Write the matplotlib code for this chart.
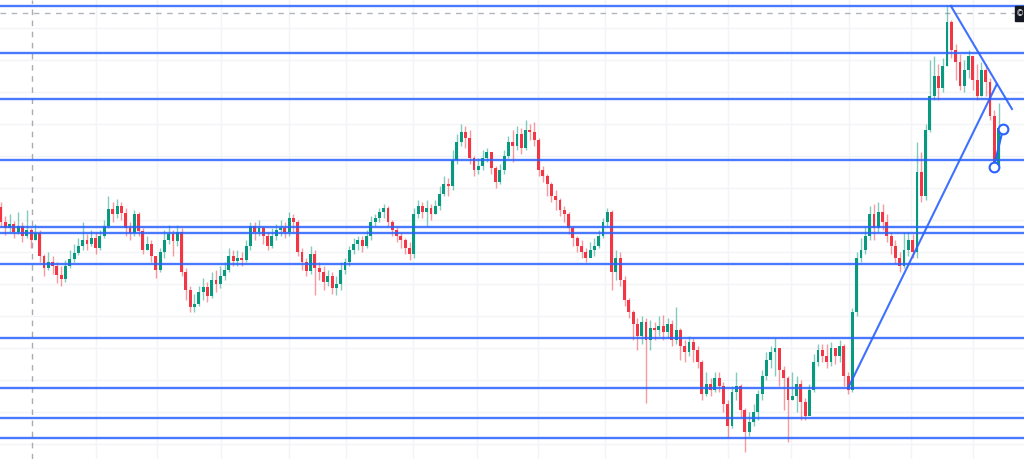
import numpy as np
import matplotlib.pyplot as plt
from matplotlib.patches import Rectangle

# candle data (close / high / low), price units, one entry per bar
close = [238, 232, 236, 228, 234, 224, 230, 220, 227, 204, 192, 198, 194, 185, 181, 194, 201, 207, 214, 220,
         216, 222, 212, 224, 234, 251, 246, 254, 247, 232, 227, 246, 229, 210, 216, 204, 190, 208, 220, 226,
         219, 228, 188, 170, 153, 156, 168, 173, 164, 180, 176, 184, 190, 204, 199, 202, 200, 214, 234, 228,
         232, 224, 214, 224, 230, 232, 228, 242, 238, 208, 198, 189, 206, 192, 188, 178, 184, 172, 176, 190,
         198, 210, 216, 220, 214, 224, 238, 242, 248, 252, 238, 230, 224, 220, 212, 206, 246, 254, 248, 252,
         246, 254, 266, 276, 274, 300, 318, 328, 322, 302, 290, 294, 302, 308, 292, 278, 290, 304, 318, 314,
         326, 312, 330, 328, 320, 290, 284, 276, 264, 260, 250, 246, 232, 222, 214, 208, 202, 210, 214, 224,
         238, 248, 188, 202, 180, 160, 148, 136, 124, 138, 120, 132, 130, 134, 128, 136, 120, 130, 114, 108,
         118, 110, 98, 66, 76, 70, 82, 74, 56, 34, 68, 74, 50, 28, 38, 48, 66, 84, 100, 108,
         112, 90, 82, 60, 64, 76, 58, 44, 70, 98, 110, 104, 98, 112, 104, 114, 84, 70, 148, 202,
         210, 224, 246, 232, 248, 238, 224, 214, 202, 194, 210, 220, 208, 288, 264, 330, 364, 384, 372, 394,
         438, 410, 398, 374, 390, 404, 380, 364, 390, 378, 344, 295, 332]
high = [258, 244, 246, 239, 248, 238, 250, 232, 236, 230, 206, 208, 204, 198, 194, 200, 210, 216, 222, 238,
        226, 230, 228, 230, 240, 264, 258, 261, 258, 252, 238, 250, 248, 232, 224, 220, 204, 212, 230, 235,
        230, 235, 232, 192, 174, 166, 174, 182, 178, 188, 190, 194, 198, 212, 210, 210, 208, 220, 238, 238,
        240, 234, 228, 232, 236, 240, 238, 248, 246, 240, 212, 202, 214, 210, 198, 194, 190, 188, 184, 198,
        202, 214, 222, 224, 224, 230, 244, 246, 252, 256, 254, 240, 234, 228, 222, 218, 252, 260, 258, 260,
        256, 260, 274, 284, 282, 310, 326, 336, 334, 330, 304, 302, 310, 312, 306, 294, 296, 310, 324, 330,
        334, 332, 340, 336, 338, 322, 294, 286, 278, 270, 262, 254, 248, 234, 224, 220, 212, 218, 222, 230,
        242, 252, 250, 210, 208, 184, 162, 150, 142, 144, 142, 140, 138, 144, 145, 142, 140, 153, 132, 120,
        124, 122, 114, 100, 88, 82, 88, 88, 78, 60, 74, 88, 76, 52, 48, 56, 70, 90, 108, 114,
        122, 94, 94, 84, 88, 84, 80, 62, 76, 106, 116, 116, 116, 118, 112, 120, 116, 88, 152, 208,
        222, 234, 254, 256, 258, 256, 246, 228, 220, 208, 228, 228, 226, 318, 308, 336, 400, 404, 396, 402,
        455, 440, 416, 406, 400, 410, 404, 396, 398, 396, 382, 350, 357]
low = [234, 225, 228, 222, 226, 218, 222, 212, 220, 198, 184, 190, 186, 177, 174, 178, 192, 198, 205, 210,
       210, 214, 206, 210, 222, 232, 238, 242, 240, 224, 220, 224, 224, 206, 210, 198, 182, 188, 202, 216,
       204, 214, 184, 160, 148, 148, 154, 160, 158, 162, 168, 172, 180, 188, 194, 194, 194, 198, 210, 220,
       224, 216, 210, 212, 220, 224, 222, 224, 228, 204, 190, 184, 186, 165, 180, 170, 174, 166, 165, 170,
       186, 194, 206, 210, 208, 212, 220, 234, 238, 242, 234, 224, 218, 212, 206, 200, 202, 242, 242, 234,
       240, 246, 250, 264, 264, 270, 296, 314, 312, 296, 284, 286, 290, 298, 286, 272, 276, 286, 302, 298,
       310, 306, 310, 320, 314, 284, 278, 264, 258, 250, 244, 238, 226, 214, 208, 202, 198, 204, 204, 212,
       222, 234, 170, 180, 174, 154, 142, 120, 110, 116, 57, 110, 120, 124, 120, 122, 114, 116, 100, 98,
       104, 98, 92, 60, 64, 64, 68, 68, 48, 23, 32, 60, 42, 8, 24, 34, 40, 60, 80, 92,
       84, 74, 50, 18, 60, 48, 40, 40, 48, 68, 94, 98, 92, 94, 96, 98, 74, 66, 68, 144,
       198, 206, 220, 220, 228, 230, 218, 206, 196, 188, 192, 204, 202, 202, 258, 260, 328, 360, 360, 368,
       394, 402, 380, 370, 368, 382, 370, 360, 364, 364, 340, 292, 294]
first_open = 253

# drawn levels and trendlines (price units)
h_levels = [454, 407.3, 361, 300.5, 233.5, 226.8, 195.8, 122.3, 72.5, 42.4, 22.4]
last_price = 446.7
rise_line_x = [197.0, 231.6]
rise_line_y = [72, 376]
fall_line_x = [220.9, 235.1]
fall_line_y = [454, 351]
leg_x = [230.9, 233.0]
leg_y = [293, 331]
date_grid = [22.1, 36.3, 51.2, 67.0, 80.2, 95.8, 110.7, 124.9, 140.5, 154.7,
             169.1, 183.7, 197.2, 211.6, 226.0]
cursor_x = 7.3

up_col = '#089981'
down_col = '#f23645'
line_col = '#2962ff'

fig = plt.figure(figsize=(10.24, 4.59), dpi=100)
ax = fig.add_axes([0, 0, 1, 1])

# grid
for g in date_grid:
    ax.axvline(g, color='#f3f4f7', lw=1, zorder=0)
for p in np.arange(16, 460, 32):
    ax.axhline(p, color='#f3f4f7', lw=1, zorder=0)

opens = [first_open] + close[:-1]
for i, (o, c, h, l) in enumerate(zip(opens, close, high, low)):
    col = up_col if c >= o else down_col
    ax.vlines(i, l, h, color=col, lw=1, alpha=0.5, zorder=2)
    bottom = min(o, c)
    height = max(abs(c - o), 0.8)
    ax.add_patch(Rectangle((i - 0.33, bottom), 0.66, height, color=col, lw=0, zorder=3))

for lv in h_levels:
    ax.axhline(lv, color=line_col, lw=1.7, alpha=0.85, zorder=4)

ax.axhline(last_price, color='#b2b5be', lw=1, ls=(0, (4, 4)), zorder=1)
ax.axvline(cursor_x, color='#9598a1', lw=1, ls=(0, (4, 4)), alpha=0.8, zorder=1)

ax.plot(rise_line_x, rise_line_y, color=line_col, lw=1.5, alpha=0.9, zorder=5)
ax.plot(fall_line_x, fall_line_y, color=line_col, lw=1.5, alpha=0.9, zorder=5)
ax.plot(leg_x, leg_y, color=line_col, lw=1.5, zorder=5)
ax.plot(leg_x, leg_y, 'o', ms=7, mfc='white', mec=line_col, mew=1.5, zorder=6, ls='none')

# price label box at the right edge
ax.add_patch(Rectangle((235.9, 439), 3, 15, color='#131722', zorder=7))
ax.text(237.0, 446.5, '©', color='white', fontsize=6, ha='center', va='center', zorder=8)

ax.set_xlim(-0.23, 237.9)
ax.set_ylim(1, 460)
ax.axis('off')

fig.savefig('out.png', dpi=100)
